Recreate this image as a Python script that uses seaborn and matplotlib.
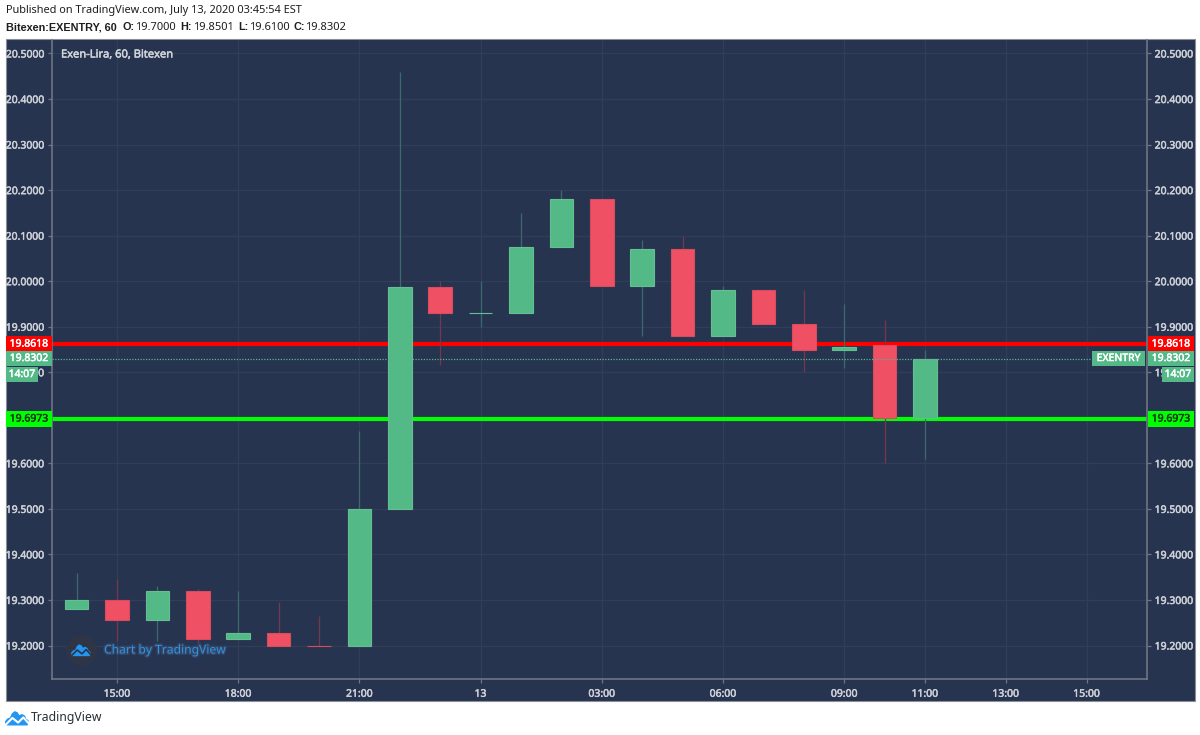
import matplotlib
matplotlib.use("Agg")
import matplotlib.pyplot as plt
from matplotlib.patches import Rectangle
import matplotlib.patheffects as pe
import pandas as pd
import seaborn as sns

# --- data ---
opens = [19.28, 19.30, 19.255, 19.32, 19.215, 19.227, 19.20, 19.20, 19.50, 19.987, 19.93,
         19.93, 20.075, 20.18, 19.99, 20.07, 19.88, 19.98, 19.905, 19.85, 19.86, 19.70]
closes = [19.30, 19.255, 19.32, 19.215, 19.227, 19.20, 19.20, 19.50, 19.987, 19.93, 19.93,
          20.075, 20.18, 19.99, 20.07, 19.88, 19.98, 19.905, 19.85, 19.855, 19.70, 19.8302]
highs = [19.36, 19.345, 19.33, 19.325, 19.32, 19.295, 19.265, 19.67, 20.46, 20.00, 20.00,
         20.15, 20.20, 20.18, 20.09, 20.10, 19.99, 19.98, 19.98, 19.95, 19.915, 19.85]
lows = [19.28, 19.21, 19.21, 19.20, 19.215, 19.20, 19.20, 19.20, 19.50, 19.815, 19.90,
        19.93, 20.075, 19.99, 19.88, 19.88, 19.88, 19.905, 19.80, 19.81, 19.60, 19.61]
bar_index = list(range(22))  # hourly bars, first one is 14:00

xtick_pos = [1, 4, 7, 10, 13, 16, 19, 21, 23, 25]
xtick_labels = ["15:00", "18:00", "21:00", "13", "03:00", "06:00", "09:00", "11:00", "13:00", "15:00"]
ytick_vals = [19.2, 19.3, 19.4, 19.5, 19.6, 19.7, 19.8, 19.9, 20.0, 20.1, 20.2, 20.3, 20.4, 20.5]

red_level = 19.8618
lime_level = 19.6973
last_price = 19.8302

W, H = 1200, 735
BG = "#27344f"
GRID = "#323d59"
AXIS = "#6f7583"
UP = "#53b987"
DOWN = "#ef5064"
LABEL = "#cdd0d7"
BLUE = "#2196f3"

sns.set_theme(style="dark", rc={"axes.facecolor": BG, "figure.facecolor": "white"})
plt.rcParams["font.family"] = ["Noto Sans", "DejaVu Sans"]

fig = plt.figure(figsize=(W / 100, H / 100), dpi=100)


def heavier(color, lw=0.35):
    return [pe.withStroke(linewidth=lw, foreground=color)]


def px_text(x, y, s, **kw):
    kw.setdefault("va", "center")
    kw.setdefault("ha", "left")
    kw.setdefault("color", "#1e1e1e")
    kw.setdefault("fontsize", 7.9)
    return fig.text(x / W, 1 - y / H, s, **kw)


def px_rect(x0, y0, x1, y1, **kw):
    r = Rectangle((x0 / W, 1 - y1 / H), (x1 - x0) / W, (y1 - y0) / H,
                  transform=fig.transFigure, **kw)
    fig.add_artist(r)
    return r


def draw_logo(cx, cy, size, color, line):
    # small cloud mark
    pts = [(-1, .6), (-1.05, .3), (-.85, .05), (-.6, -.05), (-.45, -.4), (-.2, -.6), (.05, -.5), (.2, -.25),
           (.45, -.35), (.7, -.2), (.8, .05), (1, .2), (1.05, .45), (.9, .65), (-.85, .65)]
    xy = [((cx + a * size) / W, 1 - (cy + b * size) / H) for a, b in pts]
    fig.add_artist(plt.Polygon(xy, closed=True, transform=fig.transFigure, facecolor=color, edgecolor="none", zorder=8))
    zig = [(-.95, .55), (-.4, .0), (.1, .4), (.55, -.05), (1, .45)]
    fig.add_artist(plt.Line2D([(cx + a * size) / W for a, b in zig], [1 - (cy + b * size) / H for a, b in zig],
                              color=line, lw=size * 0.13, transform=fig.transFigure, zorder=9))


# pane behind the chart and the price scales
px_rect(5.5, 39, 1194.5, 701, facecolor=BG, edgecolor="#8a8f99", lw=0.8, zorder=0)

ax = fig.add_axes([52 / W, 1 - 679 / H, (1147 - 52) / W, (679 - 40) / H], zorder=2)

df = pd.DataFrame({"bar": bar_index, "open": opens, "close": closes, "high": highs, "low": lows})
df["bottom"] = df[["open", "close"]].min(axis=1)
df["height"] = (df["close"] - df["open"]).abs()
df["rising"] = df["close"] >= df["open"]
df.loc[df["bar"] == 6, "rising"] = False  # flat 20:00 bar is red

ax.hlines(red_level, 0, 1, transform=ax.get_yaxis_transform(), color="#ff0000", lw=3, zorder=1.5)
ax.hlines(lime_level, 0, 1, transform=ax.get_yaxis_transform(), color="#00ff00", lw=3, zorder=1.5)

for rising, wick, body, edge in [(True, "#3b6a6c", UP, "#64bf93"), (False, "#74384e", DOWN, "#d94b5e")]:
    part = df[df["rising"] == rising]
    ax.vlines(part["bar"], part["low"], part["high"], color=wick, lw=0.9, zorder=1.8)
    sns.barplot(data=part, x="bar", y="height", bottom=part["bottom"], native_scale=True, width=0.58,
                color=body, saturation=1, edgecolor=edge, linewidth=0.8, errorbar=None, ax=ax, zorder=2)

ax.hlines(last_price, 0, (1092 - 52) / (1147 - 52), transform=ax.get_yaxis_transform(),
          color="#56b594", lw=0.9, ls=(0, (1, 1.2)), zorder=3)

ax.set_xlim((52 - 76.6) / 40.4, (1147 - 76.6) / 40.4)
ax.set_ylim(19.2 - 33.5 / 455.4, 20.5 + 13.5 / 455.4)
ax.set_xlabel("")
ax.set_ylabel("")
ax.set_xticks(xtick_pos, xtick_labels)
ax.set_yticks(ytick_vals, [f"{v:.4f}" for v in ytick_vals])
ax.grid(True, color=GRID, lw=0.9, zorder=0)
ax.set_axisbelow(True)
for s in ax.spines.values():
    s.set_color(AXIS)
    s.set_linewidth(1.2)
ax.spines["top"].set_visible(False)
ax.tick_params(axis="both", length=3, width=0.9, color=AXIS, labelcolor=LABEL, labelsize=7.5, pad=2.5)
ax.tick_params(axis="y", left=True, right=True, labelleft=True, labelright=True)
ax.tick_params(axis="x", bottom=True, pad=4)
for lab in ax.get_xticklabels() + ax.get_yticklabels():
    lab.set_path_effects(heavier(LABEL))
for t in ax.yaxis.get_major_ticks():
    t.label2.set_path_effects(heavier(LABEL))

fig.canvas.draw()


def level_y(v):
    return H - ax.transData.transform((0, v))[1]


def tag(x0, x1, yc, h, s, face, txt="white"):
    px_rect(x0, yc - h / 2, x1, yc + h / 2, facecolor=face, edgecolor="none", zorder=6)
    px_text((x0 + x1) / 2, yc, s, ha="center", color=txt, fontsize=7.5, zorder=7,
            path_effects=heavier(txt))


# price tags on both scales
for x0, x1 in [(6, 52), (1148, 1194)]:
    tag(x0, x1, level_y(red_level), 15.5, f"{red_level:.4f}", "#ff0000")
    tag(x0, x1, level_y(last_price), 15.5, f"{last_price:.4f}", UP)
    tag(x0, x1, level_y(lime_level), 16, f"{lime_level:.4f}", "#00ff00", "#143c14")
tag(6, 38, level_y(last_price) + 16, 15, "14:07", UP)
tag(1162, 1194, level_y(last_price) + 16, 15, "14:07", UP)
tag(1092, 1145, level_y(last_price), 15.5, "EXENTRY", UP)

# header
px_text(6, 11, "Published on TradingView.com, July 13, 2020 03:45:54 EST", fontsize=7.9)
bold = ["Liberation Sans", "DejaVu Sans"]
px_text(6, 27, "Bitexen:EXENTRY, 60", fontsize=7.85, fontweight="bold", family=bold)
for lx, lab, vx, val in [(122.7, "O:", 135, "19.7000"), (180, "H:", 193.3, "19.8501"),
                         (238.7, "L:", 249.3, "19.6100"), (294, "C:", 305.3, "19.8302")]:
    px_text(lx, 27, lab, fontsize=7.85, fontweight="bold", family=bold)
    px_text(vx, 27, val, fontsize=8)

px_text(61, 55, "Exen-Lira, 60, Bitexen", color="#d0d3da", fontsize=8, zorder=5,
        path_effects=heavier("#d0d3da"))

# watermark
wm_x, wm_y = fig.transFigure.inverted().transform((81, H - 650))
fig.add_artist(plt.Line2D([wm_x], [wm_y], marker="o", ms=22, mfc="#2f3545", mec="none",
                          transform=fig.transFigure, zorder=6))
draw_logo(81, 650, 9.5, BLUE, "#2f3545")
px_text(104, 650, "Chart by TradingView", color="#2f94dc", fontsize=8.7, zorder=7,
        path_effects=[pe.withStroke(linewidth=2, foreground="#33466a")])

# footer logo
draw_logo(17, 718, 11.5, BLUE, "white")
px_text(31, 718, "TradingView", color="#2a2e39", fontsize=8.8)

fig.savefig("out.png", dpi=100)
